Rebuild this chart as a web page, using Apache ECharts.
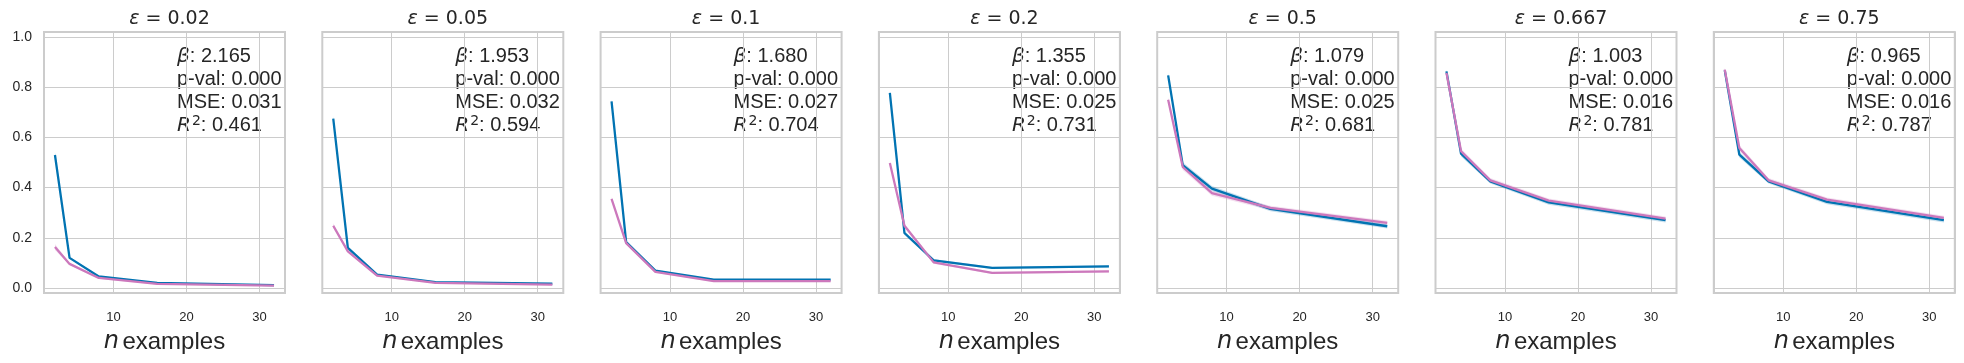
<!DOCTYPE html>
<html>
<head>
<meta charset="utf-8">
<script src="https://cdn.jsdelivr.net/npm/echarts@6/dist/echarts.min.js"></script>
<style>
  html, body { margin: 0; padding: 0; background: #ffffff; }
  #chart { width: 1964px; height: 363px; }
</style>
</head>
<body>
<div id="chart"></div>
<script>
// n examples (x values)
var nExamples = [2, 4, 8, 16, 32];
var epsLabels = ['0.02', '0.05', '0.1', '0.2', '0.5', '0.667', '0.75'];

// blue series, one list per panel
var blueVals = [
    [0.530, 0.120, 0.046, 0.020, 0.011],
    [0.675, 0.160, 0.053, 0.023, 0.017],
    [0.744, 0.183, 0.069, 0.033, 0.033],
    [0.777, 0.219, 0.110, 0.080, 0.086],
    [0.847, 0.489, 0.396, 0.315, 0.246],
    [0.863, 0.535, 0.425, 0.341, 0.270],
    [0.867, 0.531, 0.425, 0.343, 0.270]
];
// pink series
var pinkVals = [
    [0.163, 0.096, 0.040, 0.016, 0.009],
    [0.248, 0.146, 0.049, 0.020, 0.013],
    [0.355, 0.179, 0.064, 0.027, 0.027],
    [0.498, 0.248, 0.102, 0.060, 0.066],
    [0.750, 0.482, 0.378, 0.319, 0.259],
    [0.857, 0.545, 0.429, 0.348, 0.276],
    [0.870, 0.558, 0.429, 0.352, 0.279]
];
// confidence band half widths
var ciHalf = [
    [0.012, 0.004, 0.003, 0.002, 0.002],
    [0.010, 0.005, 0.003, 0.002, 0.002],
    [0.008, 0.005, 0.003, 0.002, 0.002],
    [0.008, 0.008, 0.005, 0.004, 0.004],
    [0.010, 0.012, 0.010, 0.009, 0.009],
    [0.008, 0.011, 0.009, 0.009, 0.009],
    [0.008, 0.011, 0.009, 0.009, 0.009]
];
// fit stats
var betas = ['2.165', '1.953', '1.680', '1.355', '1.079', '1.003', '0.965'];
var pVals = ['0.000', '0.000', '0.000', '0.000', '0.000', '0.000', '0.000'];
var mses = ['0.031', '0.032', '0.027', '0.025', '0.025', '0.016', '0.016'];
var r2s = ['0.461', '0.594', '0.704', '0.731', '0.681', '0.781', '0.787'];
var yTicks = [0, 0.2, 0.4, 0.6, 0.8, 1.0];
var xTicks = [10, 20, 30];

var BLUE = '#0173b2';
var PINK = '#cc78bc';
var TEXT = '#262626';
var GRIDC = '#cccccc';
var SANS = '"Liberation Sans", Arial, sans-serif';
var MATH = '"DejaVu Sans", sans-serif';

var panelLeft = 44, panelStep = 278.3, panelW = 241, panelTop = 32, panelH = 261;

function isTick(v, list) {
    for (var i = 0; i < list.length; i++) {
        if (Math.abs(v - list[i]) < 1e-6) return true;
    }
    return false;
}

// band drawn as one polygon through the axis coordinate system
function bandRenderer(fill) {
    return function(params, api) {
        if (params.dataIndex !== 0) return null;
        var upper = [], lower = [];
        for (var j = 0; j < nExamples.length; j++) {
            var x = api.value(0, j), lo = api.value(1, j), hi = api.value(2, j);
            upper.push(api.coord([x, hi]));
            lower.unshift(api.coord([x, lo]));
        }
        return {
            type: 'polygon',
            shape: { points: upper.concat(lower) },
            style: { fill: fill },
            silent: true
        };
    };
}

var grids = [], xAxes = [], yAxes = [], series = [], titles = [], graphics = [];

epsLabels.forEach(function(eps, i) {
    var left = panelLeft + i * panelStep;
    grids.push({
        left: left, top: panelTop, width: panelW, height: panelH,
        show: true, borderColor: GRIDC, borderWidth: 2, backgroundColor: 'transparent'
    });
    xAxes.push({
        type: 'value', gridIndex: i, min: 0.5, max: 33.5,
        splitNumber: 3, minInterval: 10, maxInterval: 10,
        axisLine: { show: false }, axisTick: { show: false },
        axisLabel: {
            fontFamily: SANS, fontSize: 13, color: TEXT, margin: 18,
            showMinLabel: false, showMaxLabel: false,
            formatter: function(v) { return isTick(v, xTicks) ? String(v) : ''; }
        },
        splitLine: { show: true, lineStyle: { color: GRIDC, width: 1 } },
        name: '{n|n} {t|examples}',
        nameLocation: 'middle', nameGap: 37,
        nameTextStyle: {
            rich: {
                n: { fontFamily: MATH, fontStyle: 'italic', fontSize: 24, color: TEXT },
                t: { fontFamily: SANS, fontSize: 24, color: TEXT }
            }
        }
    });
    yAxes.push({
        type: 'value', gridIndex: i, min: -0.02, max: 1.02, splitNumber: 5,
        axisLine: { show: false }, axisTick: { show: false },
        axisLabel: {
            show: i === 0, fontFamily: SANS, fontSize: 14, color: TEXT, margin: 12,
            showMinLabel: false, showMaxLabel: false,
            formatter: function(v) { return isTick(v, yTicks) ? v.toFixed(1) : ''; }
        },
        splitLine: { show: true, lineStyle: { color: GRIDC, width: 1 } }
    });
    titles.push({
        text: '{e|ε} = ' + eps,
        left: left + panelW / 2, top: 5, textAlign: 'center',
        textStyle: {
            fontFamily: MATH, fontSize: 19, fontWeight: 'normal', color: TEXT,
            rich: { e: { fontFamily: MATH, fontStyle: 'italic', fontSize: 19, color: TEXT } }
        }
    });

    [[blueVals[i], BLUE, 'rgba(1,115,178,0.22)'], [pinkVals[i], PINK, 'rgba(204,120,188,0.22)']]
        .forEach(function(s) {
            var vals = s[0];
            series.push({
                type: 'custom', xAxisIndex: i, yAxisIndex: i, silent: true,
                renderItem: bandRenderer(s[2]),
                encode: { x: 0, y: [1, 2] },
                data: nExamples.map(function(x, j) {
                    return [x, vals[j] - ciHalf[i][j], vals[j] + ciHalf[i][j]];
                })
            });
            series.push({
                type: 'line', xAxisIndex: i, yAxisIndex: i, symbol: 'none',
                lineStyle: { color: s[1], width: 2.3 },
                data: nExamples.map(function(x, j) { return [x, vals[j]]; })
            });
        });

    graphics.push({
        type: 'text', left: left + 133, top: 45,
        style: {
            text: '{g|β}: ' + betas[i] + '\np-val: ' + pVals[i] + '\nMSE: ' + mses[i] +
                  '\n{r|R}{s|2}: ' + r2s[i],
            font: '20px ' + SANS, fill: TEXT, lineHeight: 23,
            rich: {
                g: { fontFamily: MATH, fontStyle: 'italic', fontSize: 20, lineHeight: 23 },
                r: { fontFamily: MATH, fontStyle: 'italic', fontSize: 20, lineHeight: 23 },
                s: { fontFamily: MATH, fontSize: 14, lineHeight: 23, verticalAlign: 'top', padding: [0, 0, 6, 1] }
            }
        }
    });
});

var chart = echarts.init(document.getElementById('chart'));
chart.setOption({
    animation: false,
    backgroundColor: '#ffffff',
    title: titles,
    grid: grids,
    xAxis: xAxes,
    yAxis: yAxes,
    series: series,
    graphic: graphics
});
</script>
</body>
</html>
